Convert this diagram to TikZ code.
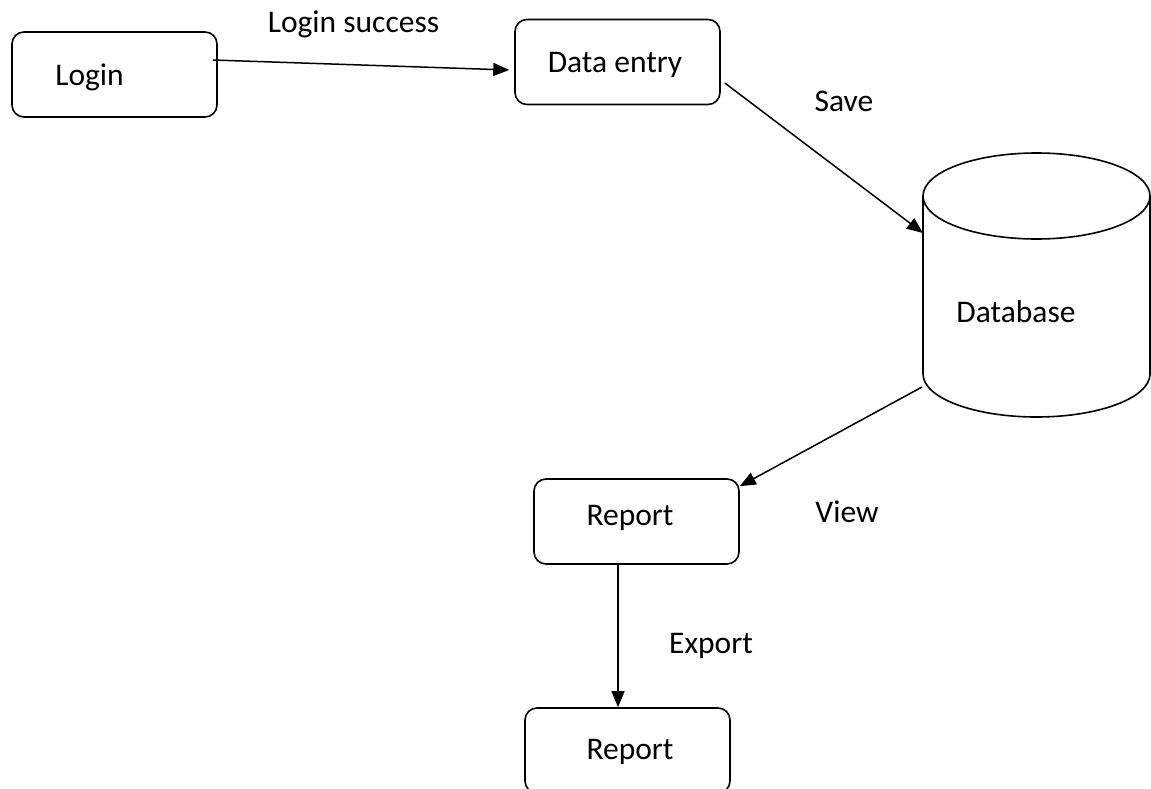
\documentclass[tikz,border=0pt]{standalone}
\usepackage{fontspec}
\setmainfont{Carlito}
\usepackage{tikz}
\usetikzlibrary{arrows.meta, positioning, calc}

\tikzset{
  box/.style={draw, line width=1.6pt, rounded corners=12pt, minimum width=205pt, minimum height=85pt, inner sep=0pt},
  flow/.style={-{Triangle[length=16pt,width=13pt]}, line width=1.5pt},
  lbl/.style={anchor=base, inner sep=0pt},
}

\begin{document}
\begin{tikzpicture}[x=1pt, y=-1pt, font=\fontsize{31.5}{38}\selectfont]
  \useasboundingbox (0,0) rectangle (1151,789);
  % boxes
  \node[box] (login) at (114.5,74.5) {};
  \node[box] (entry) at (617.5,62) {};
  \node[box] (report) at (636.5,521.5) {};
  \node[box] (export) at (627.5,750.5) {};
  \node[lbl] (login-t) at (89.5,86) {Login};
  \node[lbl] (entry-t) at (615,73) {Data entry};
  \node[lbl] (report-t) at (630,525) {Report};
  \node[lbl] (export-t) at (630,759) {Report};
  % database
  \draw[line width=1.6pt] (1036.5,196) ellipse [x radius=113.5, y radius=43];
  \draw[line width=1.6pt] (923,196) -- (923,374) arc[start angle=180, end angle=0, x radius=113.5, y radius=43] -- (1150,196);
  \node[lbl] (db) at (1016,322) {Database};
  \coordinate (db-in) at (923,233);
  \coordinate (db-out) at (922,387);
  % arrows
  \draw[flow] ([xshift=-5pt,yshift=14.5pt]login.east) -- ([xshift=-5pt,yshift=-8pt]entry.west);
  \draw[flow] ([xshift=4pt,yshift=-21pt]entry.east) -- (db-in);
  \draw[flow] (db-out) -- ([yshift=-8pt]report.north east);
  \draw[flow] ([xshift=-18.5pt]report.south) -- ([xshift=-9.5pt]export.north);
  % labels
  \node[lbl] (l-success) at (353.5,33) {Login success};
  \node[lbl] (l-save) at (844,112) {Save};
  \node[lbl] (l-view) at (847,522) {View};
  \node[lbl] (l-export) at (711,653) {Export};
\end{tikzpicture}
\end{document}
